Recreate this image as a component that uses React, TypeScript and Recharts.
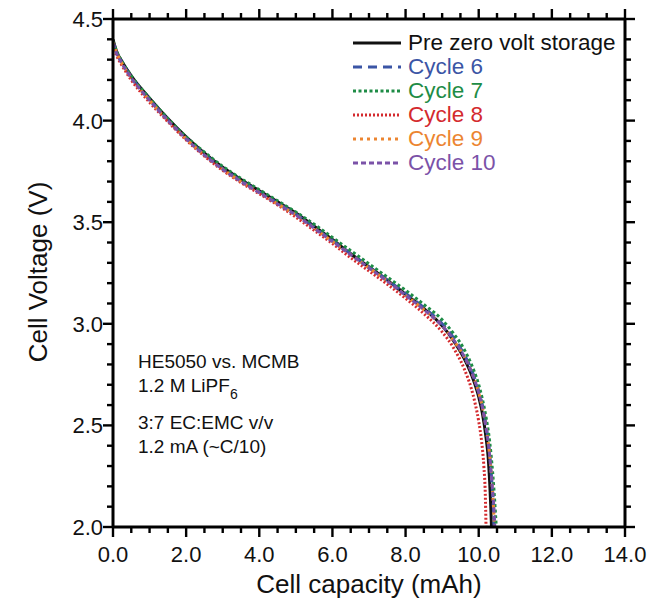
import React from "react";
import { LineChart, Line, XAxis, YAxis } from "recharts";

// capacity (mAh), voltage (V)
const preStorage = [
  [0, 4.4], [0.1, 4.34], [0.25, 4.29], [0.5, 4.22], [1.0, 4.11], [1.5, 4.01], [2.0, 3.92],
  [2.5, 3.84], [3.0, 3.77], [3.5, 3.71], [4.0, 3.655], [4.5, 3.6], [5.0, 3.545], [5.5, 3.48],
  [6.0, 3.415], [6.5, 3.345], [7.0, 3.28], [7.5, 3.215], [8.0, 3.145], [8.5, 3.075], [9.0, 2.99],
  [9.3, 2.92], [9.6, 2.83], [9.8, 2.75], [10.0, 2.64], [10.1, 2.56], [10.2, 2.44], [10.26, 2.34],
  [10.3, 2.22], [10.33, 2.1], [10.35, 2.0],
];
const cycle6 = [
  [0, 4.39], [0.1, 4.335], [0.25, 4.285], [0.5, 4.215], [1.0, 4.105], [1.5, 4.005], [2.0, 3.915],
  [2.5, 3.835], [3.0, 3.765], [3.5, 3.705], [4.0, 3.65], [4.5, 3.595], [5.0, 3.54], [5.5, 3.475],
  [6.0, 3.41], [6.5, 3.345], [7.0, 3.28], [7.5, 3.215], [8.0, 3.15], [8.5, 3.08], [9.0, 3.0],
  [9.3, 2.935], [9.6, 2.85], [9.8, 2.775], [10.0, 2.67], [10.1, 2.6], [10.2, 2.5], [10.3, 2.36],
  [10.36, 2.22], [10.4, 2.1], [10.42, 2.0],
];
const cycle7 = [
  [0, 4.39], [0.1, 4.34], [0.25, 4.29], [0.5, 4.22], [1.0, 4.11], [1.5, 4.01], [2.0, 3.92],
  [2.5, 3.845], [3.0, 3.775], [3.5, 3.715], [4.0, 3.66], [4.5, 3.605], [5.0, 3.55], [5.5, 3.49],
  [6.0, 3.425], [6.5, 3.36], [7.0, 3.295], [7.5, 3.23], [8.0, 3.165], [8.5, 3.095], [9.0, 3.02],
  [9.3, 2.955], [9.6, 2.875], [9.8, 2.8], [10.0, 2.7], [10.1, 2.63], [10.2, 2.54], [10.3, 2.42],
  [10.38, 2.27], [10.44, 2.12], [10.48, 2.0],
];
const cycle8 = [
  [0, 4.37], [0.1, 4.32], [0.25, 4.27], [0.5, 4.2], [1.0, 4.09], [1.5, 3.995], [2.0, 3.905],
  [2.5, 3.825], [3.0, 3.755], [3.5, 3.695], [4.0, 3.64], [4.5, 3.585], [5.0, 3.525], [5.5, 3.46],
  [6.0, 3.395], [6.5, 3.325], [7.0, 3.26], [7.5, 3.195], [8.0, 3.125], [8.5, 3.05], [9.0, 2.96],
  [9.3, 2.885], [9.6, 2.78], [9.8, 2.68], [9.9, 2.61], [10.0, 2.52], [10.08, 2.42], [10.14, 2.3],
  [10.18, 2.16], [10.2, 2.0],
];
const cycle9 = [
  [0, 4.385], [0.1, 4.335], [0.25, 4.28], [0.5, 4.21], [1.0, 4.1], [1.5, 4.0], [2.0, 3.91],
  [2.5, 3.83], [3.0, 3.76], [3.5, 3.7], [4.0, 3.645], [4.5, 3.59], [5.0, 3.535], [5.5, 3.47],
  [6.0, 3.405], [6.5, 3.34], [7.0, 3.275], [7.5, 3.21], [8.0, 3.14], [8.5, 3.07], [9.0, 2.99],
  [9.3, 2.92], [9.6, 2.84], [9.8, 2.765], [10.0, 2.66], [10.1, 2.59], [10.2, 2.49], [10.3, 2.35],
  [10.37, 2.2], [10.41, 2.08], [10.43, 2.0],
];
const cycle10 = [
  [0, 4.38], [0.1, 4.33], [0.25, 4.28], [0.5, 4.21], [1.0, 4.1], [1.5, 4.0], [2.0, 3.91],
  [2.5, 3.83], [3.0, 3.76], [3.5, 3.7], [4.0, 3.645], [4.5, 3.59], [5.0, 3.535], [5.5, 3.47],
  [6.0, 3.405], [6.5, 3.34], [7.0, 3.275], [7.5, 3.21], [8.0, 3.14], [8.5, 3.07], [9.0, 2.99],
  [9.3, 2.925], [9.6, 2.84], [9.8, 2.765], [10.0, 2.66], [10.1, 2.59], [10.2, 2.49], [10.3, 2.35],
  [10.37, 2.2], [10.42, 2.08], [10.44, 2.0],
];

const xLabels = ["0.0", "2.0", "4.0", "6.0", "8.0", "10.0", "12.0", "14.0"];
const yLabels = ["2.0", "2.5", "3.0", "3.5", "4.0", "4.5"];
const xMinorStep = 0.5;
const yMinorStep = 0.1;

const series = [
  { name: "Pre zero volt storage", data: preStorage, color: "#111111", dash: undefined, width: 3 },
  { name: "Cycle 6", data: cycle6, color: "#3b55a5", dash: "9 6", width: 3 },
  { name: "Cycle 7", data: cycle7, color: "#1e8c46", dash: "3 2.5", width: 3 },
  { name: "Cycle 8", data: cycle8, color: "#d42a2e", dash: "2 2", width: 3 },
  { name: "Cycle 9", data: cycle9, color: "#ec8531", dash: "3 4", width: 3 },
  { name: "Cycle 10", data: cycle10, color: "#7b52a8", dash: "5 3", width: 3 },
];

const toPoints = (arr: number[][]) => arr.map(([cap, v]) => ({ cap, v }));

const xTicks = Array.from({ length: 29 }, (_, i) => i * xMinorStep);
const yTicks = Array.from({ length: 26 }, (_, i) => Math.round((2 + i * yMinorStep) * 10) / 10);

const font = "Arial, 'Liberation Sans', sans-serif";

const isMajorX = (v: number) => Math.abs(v / 2 - Math.round(v / 2)) < 1e-6;
const isMajorY = (v: number) => Math.abs(v / 0.5 - Math.round(v / 0.5)) < 1e-6;

const BottomTick = (props: any) => {
  const { x, y, payload } = props;
  const major = isMajorX(payload.value);
  const label = major ? xLabels[Math.round(payload.value / 2)] : null;
  return (
    <g>
      <line x1={x} x2={x} y1={y} y2={y + (major ? 10 : 6)} stroke="#000" strokeWidth={2.4} />
      {label && (
        <text x={x} y={y + 35} textAnchor="middle" fontSize={22} fontFamily={font} fill="#111">
          {label}
        </text>
      )}
    </g>
  );
};

const TopTick = (props: any) => {
  const { x, y, payload } = props;
  const major = isMajorX(payload.value);
  return <line x1={x} x2={x} y1={y} y2={y - (major ? 10 : 6)} stroke="#000" strokeWidth={2.4} />;
};

const LeftTick = (props: any) => {
  const { x, y, payload } = props;
  const major = isMajorY(payload.value);
  const label = major ? yLabels[Math.round((payload.value - 2) / 0.5)] : null;
  return (
    <g>
      <line x1={x} x2={x - (major ? 10 : 6)} y1={y} y2={y} stroke="#000" strokeWidth={2.4} />
      {label && (
        <text x={x - 10} y={y + 8} textAnchor="end" fontSize={22} fontFamily={font} fill="#111">
          {label}
        </text>
      )}
    </g>
  );
};

const RightTick = (props: any) => {
  const { x, y, payload } = props;
  const major = isMajorY(payload.value);
  return <line x1={x} x2={x + (major ? 10 : 6)} y1={y} y2={y} stroke="#000" strokeWidth={2.4} />;
};

const legendTop = 43;
const legendGap = 24;

export default function App() {
  return (
    <div style={{ position: "absolute", left: 0, top: 0, width: 650, height: 601, background: "#fff", fontFamily: font }}>
      <LineChart width={650} height={601} margin={{ top: 9, right: 0, bottom: 0, left: 0 }}>
        <XAxis
          xAxisId="b"
          dataKey="cap"
          type="number"
          domain={[0, 14]}
          ticks={xTicks}
          interval={0}
          height={74}
          tickSize={0}
          tickMargin={0}
          axisLine={{ stroke: "#000", strokeWidth: 3 }}
          tick={<BottomTick />}
          allowDataOverflow
        />
        <XAxis
          xAxisId="t"
          orientation="top"
          dataKey="cap"
          type="number"
          domain={[0, 14]}
          ticks={xTicks}
          interval={0}
          height={10}
          tickSize={0}
          tickMargin={0}
          axisLine={{ stroke: "#000", strokeWidth: 3 }}
          tick={<TopTick />}
          allowDataOverflow
        />
        <YAxis
          yAxisId="l"
          dataKey="v"
          type="number"
          domain={[2, 4.5]}
          ticks={yTicks}
          interval={0}
          width={113}
          tickSize={0}
          tickMargin={0}
          axisLine={{ stroke: "#000", strokeWidth: 3 }}
          tick={<LeftTick />}
          allowDataOverflow
        />
        <YAxis
          yAxisId="r"
          orientation="right"
          dataKey="v"
          type="number"
          domain={[2, 4.5]}
          ticks={yTicks}
          interval={0}
          width={25}
          tickSize={0}
          tickMargin={0}
          axisLine={{ stroke: "#000", strokeWidth: 3 }}
          tick={<RightTick />}
          allowDataOverflow
        />
        {series.map((s) => (
          <Line
            key={s.name}
            xAxisId="b"
            yAxisId="l"
            data={toPoints(s.data)}
            dataKey="v"
            type="monotone"
            stroke={s.color}
            strokeWidth={s.width}
            strokeDasharray={s.dash}
            dot={false}
            isAnimationActive={false}
          />
        ))}
      </LineChart>

      {/* axis titles */}
      <div style={{ position: "absolute", left: 113, width: 512, top: 569, textAlign: "center", fontSize: 26, color: "#111", lineHeight: "30px" }}>
        Cell capacity (mAh)
      </div>
      <div
        style={{
          position: "absolute",
          left: 38,
          top: 272,
          transform: "translate(-50%, -50%) rotate(-90deg)",
          fontSize: 26,
          color: "#111",
          whiteSpace: "nowrap",
          lineHeight: "30px",
        }}
      >
        Cell Voltage (V)
      </div>

      {/* legend */}
      {series.map((s, i) => (
        <div key={s.name} style={{ position: "absolute", left: 350, top: legendTop + i * legendGap - 12, height: 24, display: "flex", alignItems: "center" }}>
          <svg width={54} height={24}>
            <line x1={3} x2={51} y1={12} y2={12} stroke={s.color} strokeWidth={s.width} strokeDasharray={s.dash} />
          </svg>
          <span style={{ fontSize: 22.5, color: s.color === "#111111" ? "#111" : s.color, marginLeft: 4, whiteSpace: "nowrap", lineHeight: "24px" }}>{s.name}</span>
        </div>
      ))}

      {/* annotation */}
      <div style={{ position: "absolute", left: 138, top: 350, fontSize: 19, color: "#111", lineHeight: "24px" }}>
        <div>HE5050 vs. MCMB</div>
        <div>
          1.2 M LiPF<sub style={{ fontSize: 14, verticalAlign: "-7px", lineHeight: 0 }}>6</sub>
        </div>
        <div style={{ marginTop: 13 }}>3:7 EC:EMC v/v</div>
        <div>1.2 mA (~C/10)</div>
      </div>
    </div>
  );
}
